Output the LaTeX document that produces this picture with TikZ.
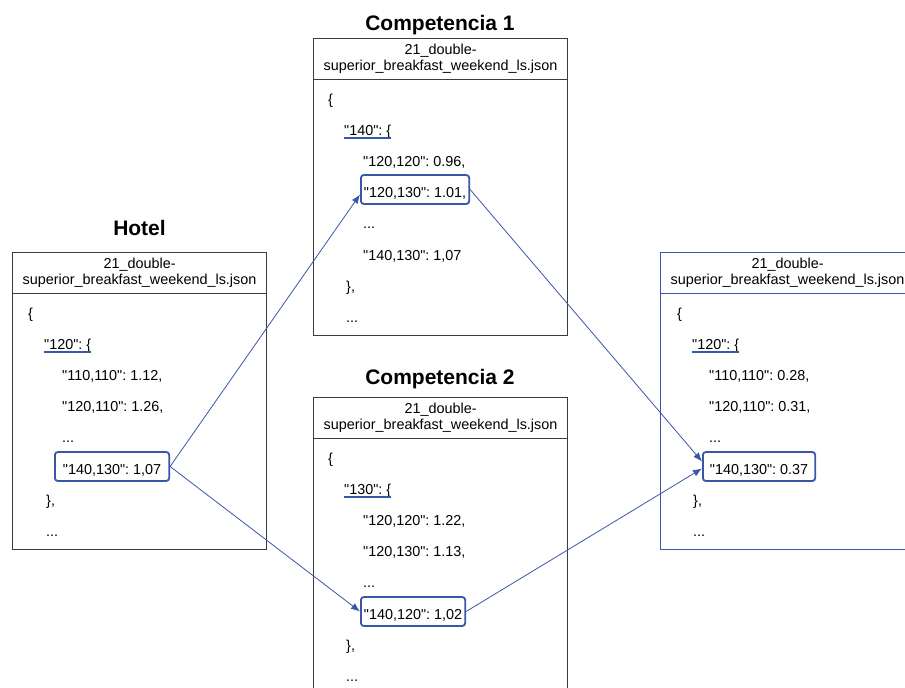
\documentclass[tikz,border=0pt]{standalone}
\usepackage{fontspec}
\setmainfont{Liberation Sans}[Ligatures=TeXOff]
\usepackage{tikz}
\usetikzlibrary{arrows.meta,positioning,calc}
\definecolor{azulRes}{HTML}{3A56A8}
\definecolor{grisBorde}{HTML}{3C3C3C}
\frenchspacing
\tikzset{
  archivo/.style={draw=#1, line width=1.1pt, anchor=north west, minimum width=254pt, minimum height=297pt, inner sep=0pt},
  cabecera/.style={draw=#1, line width=1.1pt, anchor=north, minimum width=254pt, minimum height=41pt, inner sep=0pt, align=center, font=\fontsize{14.4pt}{16pt}\selectfont},
  linea/.style={anchor=base west, inner sep=0pt, font=\fontsize{14.4pt}{16pt}\selectfont},
  resalte/.style={linea, draw=azulRes, line width=1.8pt, rounded corners=3pt, inner xsep=#1, inner ysep=6pt, text height=16pt, text depth=1pt},
  titulo/.style={anchor=base, font=\fontsize{21pt}{24pt}\selectfont\bfseries},
  subrayado/.style={draw=azulRes, line width=1.6pt},
  flecha/.style={-{Latex[length=9pt,width=7pt]}, draw=azulRes, line width=0.8pt},
}

\begin{document}
\begin{tikzpicture}[x=1pt, y=-1pt]
\useasboundingbox (0,0) rectangle (905,688);
\clip (0,0) rectangle (905,688);

% titulos
\node[titulo] (thotel) at (139.5,235) {Hotel};
\node[titulo] (tcomp1) at (440,30) {Competencia 1};
\node[titulo] (tcomp2) at (440,384) {Competencia 2};

% archivos
\node[archivo=grisBorde] (hotel) at (12,252) {};
\node[archivo=grisBorde] (comp1) at (313,38) {};
\node[archivo=grisBorde] (comp2) at (313,397) {};
\node[archivo=azulRes] (salida) at (660,252) {};
\node[cabecera=grisBorde] (hotelcab) at (hotel.north) {21\_double-\\superior\_breakfast\_weekend\_ls.json};
\node[cabecera=grisBorde] (comp1cab) at (comp1.north) {21\_double-\\superior\_breakfast\_weekend\_ls.json};
\node[cabecera=grisBorde] (comp2cab) at (comp2.north) {21\_double-\\superior\_breakfast\_weekend\_ls.json};
\node[cabecera=azulRes] (salidacab) at (salida.north) {21\_double-\\superior\_breakfast\_weekend\_ls.json};

% hotel
\node[linea] (h1) at (28,318) {\{};
\node[linea] (h2) at (44,349) {"120": \{};
\node[linea] (h3) at (62,380) {"110,110": 1.12,};
\node[linea] (h4) at (62,411) {"120,110": 1.26,};
\node[linea] (h5) at (62,442) {...};
\node[resalte=8pt] (h6) at (54,474) {"140,130": 1,07};
\node[linea] (h7) at (46,505) {\},};
\node[linea] (h8) at (46,536) {...};

% competencia 1
\node[linea] (ca1) at (328,104) {\{};
\node[linea] (ca2) at (344,135) {"140": \{};
\node[linea] (ca3) at (363,166) {"120,120": 0.96,};
\node[resalte=3pt] (ca4) at (360,197) {"120,130": 1.01,};
\node[linea] (ca5) at (363,228) {...};
\node[linea] (ca6) at (363,260) {"140,130": 1,07};
\node[linea] (ca7) at (346,291) {\},};
\node[linea] (ca8) at (346,322) {...};

% competencia 2
\node[linea] (cb1) at (328,463) {\{};
\node[linea] (cb2) at (344,494) {"130": \{};
\node[linea] (cb3) at (363,525) {"120,120": 1.22,};
\node[linea] (cb4) at (363,556) {"120,130": 1.13,};
\node[linea] (cb5) at (363,587) {...};
\node[resalte=3pt] (cb6) at (360,619) {"140,120": 1,02};
\node[linea] (cb7) at (346,650) {\},};
\node[linea] (cb8) at (346,681) {...};

% salida
\node[linea] (s1) at (677,318) {\{};
\node[linea] (s2) at (692,349) {"120": \{};
\node[linea] (s3) at (709,380) {"110,110": 0.28,};
\node[linea] (s4) at (709,411) {"120,110": 0.31,};
\node[linea] (s5) at (709,442) {...};
\node[resalte=7pt] (s6) at (702,474) {"140,130": 0.37};
\node[linea] (s7) at (693,505) {\},};
\node[linea] (s8) at (693,536) {...};

% claves subrayadas
\draw[subrayado] (h2.south west) -- (h2.south east);
\draw[subrayado] (ca2.south west) -- (ca2.south east);
\draw[subrayado] (cb2.south west) -- (cb2.south east);
\draw[subrayado] (s2.south west) -- (s2.south east);

% flechas
\draw[flecha] (h6.east) -- ([yshift=-5pt]ca4.west);
\draw[flecha] (h6.east) -- (cb6.west);
\draw[flecha] (ca4.east) -- ([yshift=5pt]s6.west);
\draw[flecha] (cb6.east) -- ([yshift=-2pt]s6.west);
\end{tikzpicture}
\end{document}
